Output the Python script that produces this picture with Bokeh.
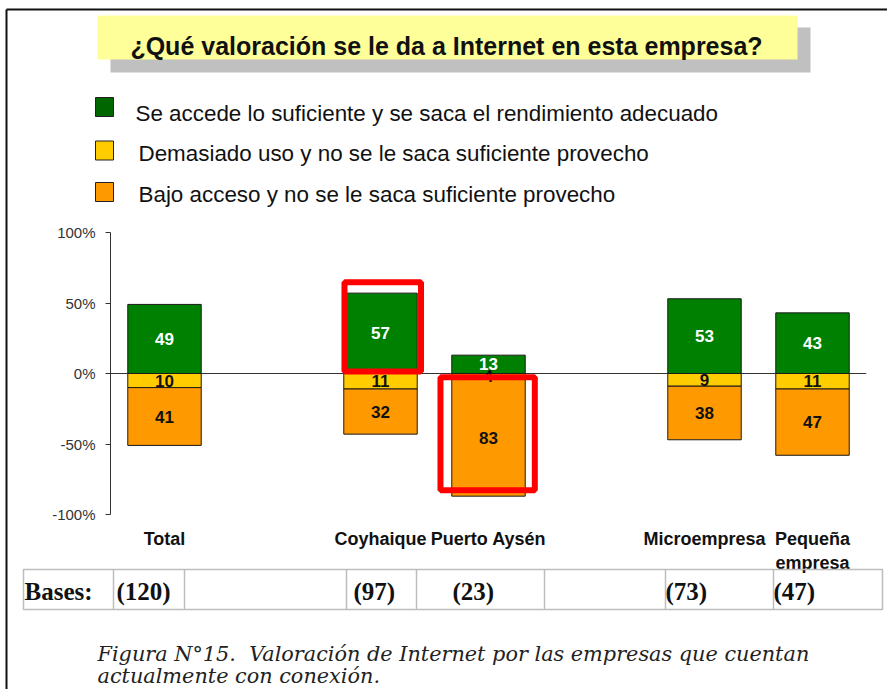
from bokeh.plotting import figure
from bokeh.models import Range1d, FixedTicker, Span, ColumnDataSource
from bokeh.core.properties import value
from bokeh.embed import file_html
from bokeh.resources import INLINE

# ---------------- data ----------------
title_text = "¿Qué valoración se le da a Internet en esta empresa?"
series_names = [
    "Se accede lo suficiente y se saca el rendimiento adecuado",
    "Demasiado uso y no se le saca suficiente provecho",
    "Bajo acceso y no se le saca suficiente provecho",
]
groups = ["Total", "Coyhaique", "Puerto Aysén", "Microempresa", "Pequeña empresa"]
group_labels = ["Total", "Coyhaique", "Puerto Aysén", "Microempresa", "Pequeña\nempresa"]
adecuado = [49, 57, 13, 53, 43]      # green, above zero
demasiado = [10, 11, 4, 9, 11]       # yellow, below zero
bajo = [41, 32, 83, 38, 47]          # orange, below yellow
bases = [120, 97, 23, 73, 47]
bases_label = "Bases:"
y_ticks = [-100, -50, 0, 50, 100]
y_tick_labels = ["-100%", "-50%", "0%", "50%", "100%"]
highlights = [("Coyhaique", "adecuado"), ("Puerto Aysén", "bajo")]
caption_lines = [
    "Figura N°15.\u00a0 Valoración de Internet por las empresas que cuentan",
    "actualmente con conexión.",
]

# ---------------- layout / style ----------------
W, H = 887, 689
slots = [0, 2, 3, 5, 6]          # slot index of each group on the x scale
N_SLOTS = 7
FRAME_L = 110                    # px of y-axis line
PX_X = 108
FRAME_R = W - (FRAME_L + N_SLOTS * PX_X)
ZERO_Y = 373
PX_Y = 1.41
BAR_W = 0.68

GREEN, YELLOW, ORANGE = "#008000", "#FFCC00", "#FF9900"
LEG_COLORS = ["#006600", "#FFCC00", "#FF9900"]
SANS = value("Liberation Sans")
SERIF = value("Liberation Serif")


def dx(px):  # canvas px -> data x
    return -0.5 + (px - FRAME_L) / PX_X


def dy(py):  # canvas px -> data y
    return (ZERO_Y - py) / PX_Y


p = figure(width=W, height=H, output_backend="svg", toolbar_location=None,
           x_range=Range1d(-0.5, N_SLOTS - 0.5),
           y_range=Range1d(dy(H), dy(0)),
           x_axis_location=None,
           min_border_left=FRAME_L, min_border_right=FRAME_R,
           min_border_top=0, min_border_bottom=0,
           outline_line_color=None, background_fill_color="white",
           border_fill_color="white")
p.xgrid.visible = False
p.ygrid.visible = False

ax = p.yaxis[0]
ax.ticker = FixedTicker(ticks=y_ticks)
ax.major_label_overrides = {t: l for t, l in zip(y_ticks, y_tick_labels)}
ax.bounds = (min(y_ticks), max(y_ticks))
ax.major_tick_out = 5
ax.major_tick_in = 0
ax.minor_tick_out = 0
ax.minor_tick_in = 0
ax.axis_line_color = "#333333"
ax.major_tick_line_color = "#333333"
ax.major_label_standoff = 10
ax.major_label_text_font = "Liberation Sans"
ax.major_label_text_font_size = "15px"
ax.major_label_text_color = "#333333"

# zero line
p.add_layout(Span(location=0, dimension="width", line_color="#333333",
                  line_width=1, level="underlay"))

# ---------------- bars ----------------
xs = [slots[i] for i in range(len(groups))]
src = ColumnDataSource(dict(
    x=xs,
    g_top=adecuado, g_bot=[0] * len(groups),
    y_top=[0] * len(groups), y_bot=[-v for v in demasiado],
    o_top=[-v for v in demasiado], o_bot=[-(a + b) for a, b in zip(demasiado, bajo)],
))
p.vbar(x="x", width=BAR_W, bottom="g_bot", top="g_top", source=src,
       fill_color=GREEN, line_color="#1a1a1a", line_width=1)
p.vbar(x="x", width=BAR_W, bottom="y_bot", top="y_top", source=src,
       fill_color=YELLOW, line_color="#1a1a1a", line_width=1)
p.vbar(x="x", width=BAR_W, bottom="o_bot", top="o_top", source=src,
       fill_color=ORANGE, line_color="#1a1a1a", line_width=1)

# value labels
lab_x, lab_y, lab_t, lab_c = [], [], [], []
for i in range(len(groups)):
    lab_x += [xs[i]] * 3
    lab_y += [adecuado[i] / 2, -demasiado[i] / 2, -demasiado[i] - bajo[i] / 2]
    lab_t += [str(adecuado[i]), str(demasiado[i]), str(bajo[i])]
    lab_c += ["white", "#111111", "#111111"]
p.text(x=lab_x, y=lab_y, text=lab_t, text_color=lab_c, text_font=SANS,
       text_font_style="bold", text_font_size="17px", text_align="center",
       text_baseline="middle")

# category labels
p.text(x=xs, y=[dy(528)] * len(groups), text=group_labels, text_font=SANS,
       text_font_style="bold", text_font_size="18px", text_align="center",
       text_baseline="top", text_color="#111111", text_line_height=1.2)

# highlight boxes (padding in px: left, right, top, bottom; outward positive)
HL_PAD = {"Coyhaique": (-0.7, 3.8, 11, -2), "Puerto Aysén": (11.3, 9.6, 1.8, -5.9)}
hl = dict(l=[], r=[], t=[], b=[])
for g, seg in highlights:
    i = groups.index(g)
    if seg == "adecuado":
        top, bot = adecuado[i], 0
    elif seg == "demasiado":
        top, bot = 0, -demasiado[i]
    else:
        top, bot = -demasiado[i], -demasiado[i] - bajo[i]
    pl, pr, pt, pb = HL_PAD[g]
    hl["l"].append(xs[i] - BAR_W / 2 - pl / PX_X)
    hl["r"].append(xs[i] + BAR_W / 2 + pr / PX_X)
    hl["t"].append(top + pt / PX_Y)
    hl["b"].append(bot - pb / PX_Y)
p.quad(left=hl["l"], right=hl["r"], top=hl["t"], bottom=hl["b"],
       fill_alpha=0, line_color="#FF0000", line_width=6, level="overlay")

# ---------------- frame border ----------------
p.segment(x0=[dx(6), dx(6)], y0=[dy(9), dy(9)], x1=[dx(6), dx(W)],
          y1=[dy(H), dy(9)], line_color="#111111", line_width=2,
          level="overlay")

# ---------------- title ----------------
p.quad(left=[dx(110)], right=[dx(810)], top=[dy(27)], bottom=[dy(72)],
       fill_color="#C0C0C0", line_color=None, level="overlay")
p.quad(left=[dx(97)], right=[dx(797)], top=[dy(15)], bottom=[dy(59)],
       fill_color="#FFFF99", line_color=None, level="overlay")
p.text(x=[dx(446)], y=[dy(45)], text=[title_text], text_font=SANS,
       text_font_style="bold", text_font_size="25px", text_align="center",
       text_baseline="alphabetic", text_color="#111111", level="overlay")

# ---------------- legend ----------------
leg_top = [97, 140.5, 182]
leg_base = [112.7, 152.7, 194]
leg_tx = [135, 138, 138]
p.quad(left=[dx(95)] * 3, right=[dx(113)] * 3, top=[dy(t) for t in leg_top],
       bottom=[dy(t + 19) for t in leg_top], fill_color=LEG_COLORS,
       line_color="#222222", line_width=1, level="overlay")
p.text(x=[dx(v) for v in leg_tx], y=[dy(v) for v in leg_base], text=series_names,
       text_font=SANS, text_font_size="22.4px", text_align="left",
       text_baseline="alphabetic", text_color="#111111", level="overlay")

# ---------------- bases table ----------------
TBL_L, TBL_R, TBL_T, TBL_B = 23, 882, 569, 609
dividers = [113, 184, 346, 416, 544, 665, 773]
p.quad(left=[dx(TBL_L)], right=[dx(TBL_R)], top=[dy(TBL_T)], bottom=[dy(TBL_B)],
       fill_alpha=0, line_color="#BDBDBD", line_width=1.5, level="overlay")
p.segment(x0=[dx(v) for v in dividers], x1=[dx(v) for v in dividers],
          y0=[dy(TBL_T)] * len(dividers), y1=[dy(TBL_B)] * len(dividers),
          line_color="#BDBDBD", line_width=1.5, level="overlay")
base_text_x = [116, 353, 452, 665, 773]
p.text(x=[dx(24)] + [dx(v) for v in base_text_x], y=[dy(591)] * (len(bases) + 1),
       text=[bases_label] + ["(%d)" % b for b in bases], text_font=SERIF,
       text_font_style="bold", text_font_size="25px", text_align="left",
       text_baseline="alphabetic", text_color="#111111", level="overlay")

# ---------------- caption ----------------
p.text(x=[dx(97)] * 2, y=[dy(653), dy(675)], text=caption_lines,
       text_font=value("DejaVu Serif"), text_font_style="italic",
       text_font_size="20.8px", text_align="left", text_baseline="alphabetic",
       text_color="#222222", level="overlay")

open("out.html", "w").write(file_html(p, INLINE))
